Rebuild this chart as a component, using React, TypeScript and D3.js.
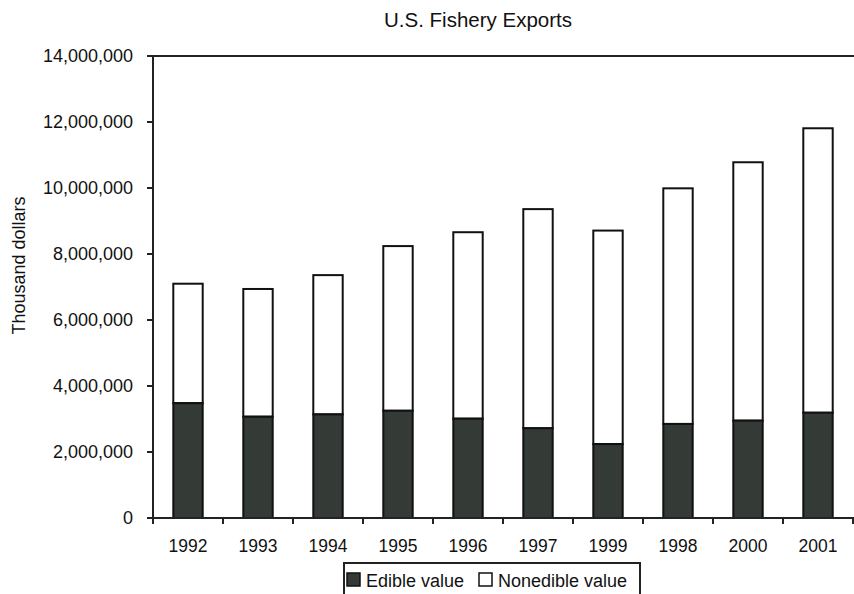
import React from "react";
import * as d3 from "d3";

const years = ["1992", "1993", "1994", "1995", "1996", "1997", "1999", "1998", "2000", "2001"];
const edible = [3480000, 3070000, 3140000, 3250000, 3010000, 2720000, 2240000, 2850000, 2950000, 3190000];
const nonedible = [3620000, 3870000, 4220000, 4990000, 5650000, 6640000, 6470000, 7140000, 7830000, 8620000];
const yTicks = [0, 2000000, 4000000, 6000000, 8000000, 10000000, 12000000, 14000000];
const seriesNames = ["Edible value", "Nonedible value"];

const W = 854, H = 594;
const left = 153, right = 853, top = 56, bottom = 518;
const FONT = "Liberation Sans, Arial, Helvetica, sans-serif";
const DARK = "#343a35";

export default function App() {
  const x = d3.scaleBand<string>().domain(years).range([left, right]).paddingInner(0.58).paddingOuter(0.29);
  const y = d3.scaleLinear().domain([0, 14000000]).range([bottom, top]);
  const fmt = d3.format(",");
  const step = x.step();
  const boundaries = d3.range(years.length + 1).map((i) => left + i * step);

  return (
    <svg width={W} height={H} style={{ position: "absolute", left: 0, top: 0, background: "#fff" }} fontFamily={FONT}>
      <rect x={0} y={0} width={W} height={H} fill="#fff" />
      <text x={478} y={27} textAnchor="middle" fontSize={20.5} fill="#111">U.S. Fishery Exports</text>
      <text transform={`translate(25,${265.5}) rotate(-90)`} textAnchor="middle" fontSize={18} fill="#111">Thousand dollars</text>

      {/* bars */}
      {years.map((yr, i) => {
        const bx = x(yr)!;
        const bw = x.bandwidth();
        const e = edible[i];
        const t = edible[i] + nonedible[i];
        return (
          <g key={yr}>
            <rect x={bx} y={y(t)} width={bw} height={y(e) - y(t)} fill="#fff" stroke="#111" strokeWidth={2} />
            <rect x={bx} y={y(e)} width={bw} height={y(0) - y(e)} fill={DARK} stroke="#111" strokeWidth={2} />
          </g>
        );
      })}

      {/* top border */}
      <line x1={left} x2={W} y1={top} y2={top} stroke="#222" strokeWidth={2} />
      {/* y axis */}
      <line x1={left} x2={left} y1={top - 1} y2={bottom + 6} stroke="#222" strokeWidth={2} />
      {yTicks.map((t) => (
        <g key={t}>
          <line x1={left - 6} x2={left} y1={y(t)} y2={y(t)} stroke="#222" strokeWidth={2} />
          <text x={133} y={y(t)} dy="0.36em" textAnchor="end" fontSize={18} fill="#111">{fmt(t)}</text>
        </g>
      ))}
      {/* x axis */}
      <line x1={left - 6} x2={W} y1={bottom} y2={bottom} stroke="#222" strokeWidth={2} />
      {boundaries.map((bx, i) => (
        <line key={i} x1={bx} x2={bx} y1={bottom} y2={bottom + 6} stroke="#222" strokeWidth={2} />
      ))}
      {years.map((yr) => (
        <text key={yr} x={x(yr)! + x.bandwidth() / 2} y={552} textAnchor="middle" fontSize={17.5} fill="#111">{yr}</text>
      ))}

      {/* legend */}
      <rect x={344} y={563} width={296} height={40} fill="#fff" stroke="#222" strokeWidth={2} />
      <rect x={347} y={573} width={13} height={13} fill={DARK} stroke="#111" strokeWidth={1.5} />
      <text x={366} y={587} fontSize={18} fill="#111">{seriesNames[0]}</text>
      <rect x={479} y={573} width={13} height={13} fill="#fff" stroke="#111" strokeWidth={1.5} />
      <text x={498} y={587} fontSize={18} fill="#111">{seriesNames[1]}</text>
    </svg>
  );
}
